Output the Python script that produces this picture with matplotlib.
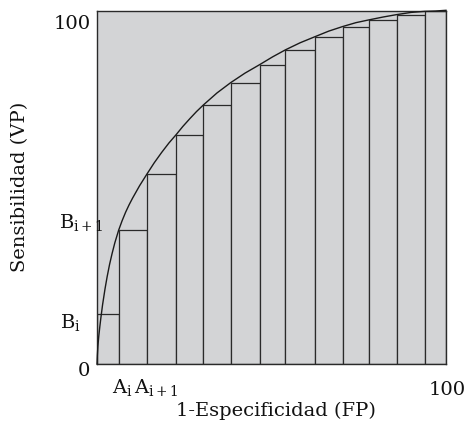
import matplotlib
matplotlib.use("Agg")
import matplotlib.pyplot as plt
import numpy as np

# ---- data ----
rect_lefts = [0, 6.2, 14.4, 22.6, 30.5, 38.3, 46.6, 54.0, 62.4, 70.4, 78.0, 86.0, 93.9]
rect_right_end = 100
rect_heights = [14.1, 37.9, 53.8, 65.0, 73.4, 79.7, 84.8, 89.0, 92.7, 95.6, 97.5, 99.0, 100]

curve_x = [0, 0.1, 0.25, 0.5, 0.8, 1.1, 1.6, 2.3, 2.9, 3.6, 4.3, 5.1, 6.2, 7.2, 8.2, 9.2, 10.2,
           12.2, 14.3, 16.4, 18.5, 20.6, 22.7, 24.6, 26.6, 28.5, 30.5, 34.4, 38.3, 42.4, 46.6,
           50.3, 54.0, 58.2, 62.4, 66.4, 70.4, 74.2, 78.0, 82.0, 86.0, 90.0, 93.9, 97.0, 100]
curve_y = [0, 2.5, 5.0, 7.8, 10.5, 13.0, 16.8, 21.3, 24.7, 28.2, 31.2, 34.3, 37.9, 40.6, 43.0,
           45.1, 47.0, 50.5, 53.8, 57.0, 59.9, 62.6, 65.0, 67.3, 69.5, 71.5, 73.4, 76.8, 79.7,
           82.4, 84.8, 87.0, 89.0, 91.0, 92.7, 94.3, 95.6, 96.7, 97.5, 98.3, 99.0, 99.6, 99.9,
           100.0, 100.2]

y_labels = ["0", "B$_\\mathregular{i}$", "B$_\\mathregular{i+1}$", "100"]
x_labels = ["A$_\\mathregular{i}$", "A$_\\mathregular{i+1}$", "100"]
xlabel = "1-Especificidad (FP)"
ylabel = "Sensibilidad (VP)"

GRAY = "#d3d4d6"
DARK = "#2a2a2a"

plt.rcParams['font.family'] = ['DejaVu Serif']
plt.rcParams['mathtext.fontset'] = 'dejavuserif'

W, H = 470, 422
fig = plt.figure(figsize=(W / 100, H / 100), dpi=100)
fig.patch.set_facecolor("white")
ax = fig.add_axes([97 / W, 1 - 364 / H, (446 - 97) / W, (364 - 11) / H])
ax.set_facecolor(GRAY)

edges = rect_lefts + [rect_right_end]
widths = np.diff(edges)
ax.bar(rect_lefts, rect_heights, width=widths, align='edge', color=GRAY,
       edgecolor=DARK, linewidth=0.9, zorder=2)
ax.plot(curve_x, curve_y, color="#1a1a1a", linewidth=1.0, zorder=3, clip_on=False,
        solid_joinstyle='round')

ax.set_xlim(0, 100)
ax.set_ylim(0, 100)
ax.set_xticks([])
ax.set_yticks([])
for s in ax.spines.values():
    s.set_color(DARK)
    s.set_linewidth(1.0)

fs = 14


def ftext(x, y, s, **kw):
    fig.text(x / W, 1 - y / H, s, fontsize=kw.pop('fontsize', fs), color="#111111", **kw)


# y-axis labels
ftext(91, 29, y_labels[3], ha='right', va='baseline')
ftext(90, 376, y_labels[0], ha='right', va='baseline')
ftext(60, 328, y_labels[1], ha='left', va='baseline')
ftext(59, 228, y_labels[2], ha='left', va='baseline')
# x-axis labels
ftext(112, 393, x_labels[0], ha='left', va='baseline')
ftext(134, 393, x_labels[1], ha='left', va='baseline')
ftext(466, 395, x_labels[2], ha='right', va='baseline')
# axis titles
ftext(276, 416, xlabel, ha='center', va='baseline')
ftext(20, 187, ylabel, ha='center', va='center', rotation=90)

fig.savefig("out.png", dpi=100)
